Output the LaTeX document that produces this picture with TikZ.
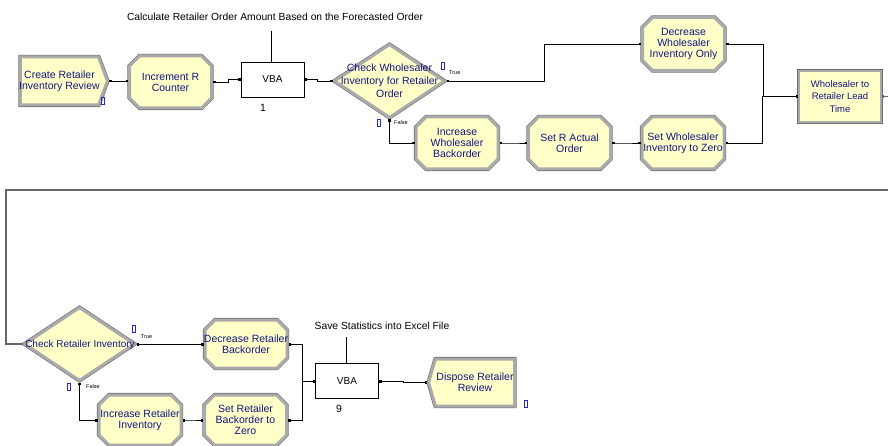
\documentclass[tikz,border=0pt]{standalone}
\usepackage{fontspec}
\setmainfont{Liberation Sans}
\usetikzlibrary{shapes.misc,shapes.geometric,shapes.symbols,arrows.meta}
\definecolor{modfill}{RGB}{255,255,200}
\definecolor{modedge}{RGB}{170,170,170}
\definecolor{modrim}{RGB}{110,110,110}
\definecolor{modtext}{RGB}{20,20,130}
\definecolor{flagblue}{RGB}{40,40,200}
\tikzset{
  modbase/.style={fill=modfill, draw=modedge, line width=3pt, inner xsep=-12pt,
    inner ysep=0pt, preaction={draw=modrim, line width=4.2pt}, text=modtext,
    align=center, font=\fontsize{10.5}{11}\selectfont},
  process/.style={modbase, chamfered rectangle, chamfered rectangle xsep=5pt,
    chamfered rectangle ysep=5pt, minimum width=82pt, minimum height=52pt},
  create/.style={modbase, signal, signal to=east, signal pointer angle=139,
    minimum width=87pt, minimum height=48pt},
  dispose/.style={modbase, signal, signal to=west, signal pointer angle=147,
    minimum width=86pt, minimum height=47pt},
  decide/.style={modbase, diamond, minimum width=111pt, minimum height=74pt},
  decidetext/.style={text=modtext, align=center, inner sep=0pt,
    font=\fontsize{10.5}{13}\selectfont},
  delaybox/.style={modbase, rectangle, preaction={draw=modrim, line width=3.2pt},
    line width=2pt, minimum width=82pt, minimum height=51pt,
    font=\fontsize{9.5}{12.5}\selectfont},
  vba/.style={draw=black, fill=white, line width=0.6pt, minimum width=63pt,
    minimum height=35pt, inner sep=0pt, font=\fontsize{10}{11}\selectfont},
  note/.style={inner sep=0pt, font=\fontsize{10.3}{11}\selectfont},
  numlbl/.style={inner sep=0pt, font=\fontsize{10.5}{11}\selectfont},
  branch/.style={inner sep=0pt, anchor=west, font=\fontsize{5.5}{6}\selectfont},
  flagbox/.style={draw=flagblue, line width=0.6pt, minimum width=2.5pt,
    minimum height=7pt, inner sep=0pt},
  link/.style={draw=black, line width=0.7pt,
    {Square[length=2.4pt,width=2.4pt]}-{Square[length=2.4pt,width=2.4pt]}},
  wrap/.style={link, draw=black!60, line width=1.1pt}
}
\begin{document}
\begin{tikzpicture}[x=1pt,y=-1pt]
\useasboundingbox (0,0) rectangle (888,446);
\clip (0,0) rectangle (888,446);

\node[create] (create) at (59.5,81) {Create Retailer\\Inventory Review};
\node[process] (incR) at (170.5,82) {Increment R\\Counter};
\node[vba] (vba1) at (272.5,79.5) {VBA};
\node[numlbl] (vba1num) at (263,108) {1};
\node[note] (vba1note) at (275,17) {Calculate Retailer Order Amount Based on the Forecasted Order};
\node[decide] (chkW) at (389.5,81) {};
\node[decidetext] (chkWtext) at (chkW.center) {Check Wholesaler\\Inventory for Retailer\\Order};
\node[process, minimum height=53pt] (decW) at (683.5,44) {Decrease\\Wholesaler\\Inventory Only};
\node[process] (incWB) at (457,143) {Increase\\Wholesaler\\Backorder};
\node[process] (setR) at (569.5,143) {Set R Actual\\Order};
\node[process] (setWZ) at (683,143) {Set Wholesaler\\Inventory to Zero};
\node[delaybox] (lead) at (840,96.5) {Wholesaler to\\Retailer Lead\\Time};

\node[decide] (chkR) at (79.5,344) {};
\node[decidetext, font=\fontsize{10}{12}\selectfont] (chkRtext) at (80,344.5) {Check Retailer Inventory};
\node[process, minimum height=48pt] (decRB) at (246,344) {Decrease Retailer\\Backorder};
\node[process, minimum height=50pt] (incRI) at (140,420) {Increase Retailer\\Inventory};
\node[process, minimum height=50pt] (setRB) at (245.5,420) {Set Retailer\\Backorder to\\Zero};
\node[vba] (vba9) at (347,381) {VBA};
\node[numlbl] (vba9num) at (339,409) {9};
\node[note] (vba9note) at (382,326) {Save Statistics into Excel File};
\node[dispose] (disp) at (475,382.5) {Dispose Retailer\\Review};

\node[flagbox] (fcreate) at (103,101) {};
\node[flagbox] (fchkWt) at (443,66) {};
\node[flagbox] (fchkWf) at (379,123) {};
\node[flagbox] (fchkRt) at (134,329) {};
\node[flagbox] (fchkRf) at (69,387) {};
\node[flagbox] (fdisp) at (526,404) {};
\node[branch] (tW) at (449,73) {True};
\node[branch] (fW) at (394,123) {False};
\node[branch] (tR) at (141,337) {True};
\node[branch] (fR) at (86,387) {False};

\coordinate (wrapR) at (895,190);
\coordinate (wrapL) at (6,190);

\draw (vba1note) ++(-4,14) coordinate (n1) -- (n1 |- vba1.north);
\draw (vba9note) ++(-36,11) coordinate (n9) -- (n9 |- vba9.north);

\draw[link] (create.east) -- (create.east -| incR.west);
\draw[link] (incR.east) -- ++(15,0) |- (vba1.west);
\draw[link] (vba1.east) -- ++(13,0) |- (chkW.west);
\draw[link] (chkW.east) -- ++(98,0) |- (decW.west);
\draw[link] (chkW.south) |- (incWB.west);
\draw[link] (incWB.east) -- ++(15,0) |- (setR.west);
\draw[link] (setR.east) -- ++(15,0) |- (setWZ.west);
\draw[link] (decW.east) -- ++(37,0) |- (lead.west);
\draw[link] (setWZ.east) -- ++(37,0) |- (lead.west);
\draw[wrap] (lead.east) -| (wrapR) -- (wrapL) |- (chkR.west);
\draw[link] (chkR.east) -- (chkR.east -| decRB.west);
\draw[link] (chkR.south) |- (incRI.west);
\draw[link] (incRI.east) -- ++(10,0) |- (setRB.west);
\draw[link] (decRB.east) -- ++(14,0) |- (vba9.west);
\draw[link] (setRB.east) -- ++(14,0) |- (vba9.west);
\draw[link] (vba9.east) -- ++(25,0) |- (disp.west);
\end{tikzpicture}
\end{document}
